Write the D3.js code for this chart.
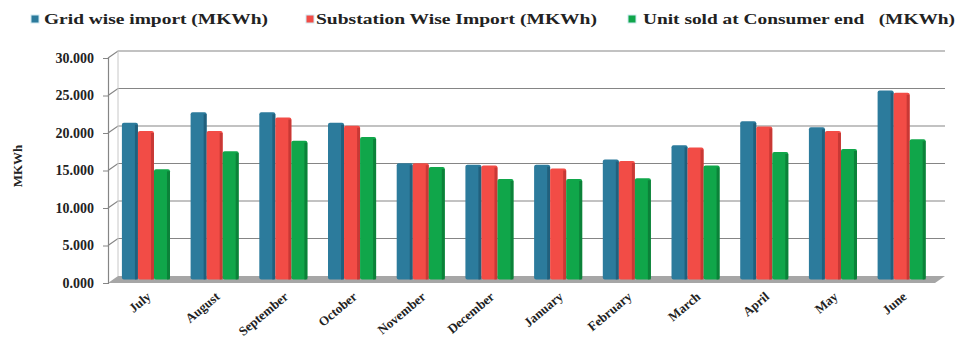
<!DOCTYPE html>
<html>
<head>
<meta charset="utf-8">
<script src="https://cdn.jsdelivr.net/npm/d3@7"></script>
<style>
  body { margin: 0; background: #fff; }
  svg { display: block; }
  text { font-family: "Liberation Serif", "Times New Roman", serif; font-weight: bold; fill: #222; }
</style>
</head>
<body>
<script>
var months = ["July", "August", "September", "October", "November", "December",
    "January", "February", "March", "April", "May", "June"];

var seriesNames = ["Grid wise import (MKWh)", "Substation Wise Import (MKWh)",
    "Unit sold at Consumer end   (MKWh)"];

var gridImport = [20.9, 22.3, 22.3, 20.9, 15.5, 15.3, 15.3, 16.0, 17.9, 21.1, 20.3, 25.2];
var substationImport = [19.8, 19.8, 21.6, 20.5, 15.5, 15.2, 14.8, 15.8, 17.6, 20.4, 19.8, 24.9];
var unitSold = [14.7, 17.1, 18.5, 19.0, 15.0, 13.4, 13.4, 13.5, 15.2, 17.0, 17.4, 18.7];

var yTicks = [0, 5, 10, 15, 20, 25, 30];

var colors = ["#2c7b9c", "#f24c46", "#10a64a"];
var sides = ["#1d5670", "#b8312d", "#0a7432"];

var width = 959, height = 349;
var depth = { x: 10, y: -7 };

var svg = d3.select("body").append("svg")
    .attr("width", width)
    .attr("height", height);

var x = d3.scaleBand()
    .domain(months)
    .range([111.6, 936])
    .paddingInner(0.3)
    .paddingOuter(0.15);

var sub = d3.scaleBand()
    .domain([0, 1, 2])
    .range([0, x.bandwidth()]);

var y = d3.scaleLinear()
    .domain([0, 30])
    .range([283, 58]);

var left = 108, right = 935;

// floor
svg.append("path")
    .attr("d", "M" + left + "," + y(0)
        + "L" + right + "," + y(0)
        + "L" + (right + depth.x) + "," + (y(0) + depth.y)
        + "L" + (left + depth.x) + "," + (y(0) + depth.y) + "Z")
    .attr("fill", "#a6a6a6");

// back wall gridlines
var grid = svg.append("g").attr("class", "grid");
grid.selectAll("path")
    .data(yTicks.filter(function(d) { return d > 0; }))
    .enter().append("path")
        .attr("d", function(d) {
            return "M" + left + "," + y(d)
                + "L" + (left + depth.x) + "," + (y(d) + depth.y)
                + "L" + (right + depth.x) + "," + (y(d) + depth.y); })
        .attr("fill", "none")
        .attr("stroke", "#858585")
        .attr("stroke-width", 1.2);

// left wall back edge
svg.append("line")
    .attr("x1", left + depth.x).attr("x2", left + depth.x)
    .attr("y1", y(30) + depth.y).attr("y2", y(0) + depth.y)
    .attr("stroke", "#c8c8c8");

// y axis
var yAxis = d3.axisLeft(y)
    .tickValues(yTicks)
    .tickFormat(d3.format(".3f"))
    .tickSize(5)
    .tickPadding(9);

var ga = svg.append("g")
    .attr("transform", "translate(" + left + ",0)")
    .call(yAxis);
ga.select(".domain").attr("stroke", "#858585").attr("stroke-width", 1.2);
ga.selectAll(".tick line").attr("stroke", "#858585");
ga.selectAll(".tick text")
    .attr("font-size", 14)
    .attr("fill", "#333")
    .attr("font-family", "Liberation Serif, serif")
    .attr("font-weight", "bold");

svg.append("text")
    .attr("transform", "translate(22,166) rotate(-90)")
    .attr("text-anchor", "middle")
    .attr("font-size", 13)
    .text("MKWh");

// bars
var table = months.map(function(m, i) {
    return { month: m, values: [gridImport[i], substationImport[i], unitSold[i]] };
});

var groups = svg.append("g")
    .attr("transform", "translate(" + depth.x / 2 + "," + depth.y / 2 + ")")
    .selectAll("g.month")
    .data(table)
    .enter().append("g")
        .attr("class", "month")
        .attr("transform", function(d) { return "translate(" + (x(d.month) - depth.x / 2) + ",0)"; });

var bars = groups.selectAll("g.bar")
    .data(function(d) { return d.values.map(function(v, k) { return { v: v, k: k }; }); })
    .enter().append("g")
        .attr("class", "bar");

bars.append("rect")
    .attr("x", function(d) { return sub(d.k); })
    .attr("y", function(d) { return y(d.v); })
    .attr("width", sub.bandwidth())
    .attr("height", function(d) { return y(0) - y(d.v); })
    .attr("rx", 2)
    .attr("fill", function(d) { return colors[d.k]; });

bars.append("rect")
    .attr("x", function(d) { return sub(d.k) + sub.bandwidth() - 3; })
    .attr("y", function(d) { return y(d.v) + 2; })
    .attr("width", 3)
    .attr("height", function(d) { return y(0) - y(d.v) - 2; })
    .attr("fill", function(d) { return sides[d.k]; })
    .attr("opacity", 0.7);

// x labels
svg.append("g").selectAll("text")
    .data(months)
    .enter().append("text")
        .attr("transform", function(d) {
            return "translate(" + (x(d) + x.bandwidth() / 2) + ",291) rotate(-40)"; })
        .attr("text-anchor", "end")
        .attr("dy", "0.7em")
        .attr("font-size", 13)
        .text(function(d) { return d; });

// legend
var legendItems = [
    { name: seriesNames[0], mx: 31, tx: 44, tw: 224 },
    { name: seriesNames[1], mx: 306, tx: 316, tw: 281 },
    { name: seriesNames[2], mx: 628, tx: 643, tw: 312 }];

var legend = svg.append("g").selectAll("g")
    .data(legendItems)
    .enter().append("g");

legend.append("rect")
    .attr("x", function(d) { return d.mx; })
    .attr("y", 15)
    .attr("width", 8)
    .attr("height", 8)
    .attr("fill", function(d, i) { return colors[i]; })
    .attr("stroke", "#cfe9f2")
    .attr("stroke-width", 1);

legend.append("text")
    .attr("x", function(d) { return d.tx; })
    .attr("y", 24)
    .attr("font-size", 14)
    .attr("textLength", function(d) { return d.tw; })
    .attr("lengthAdjust", "spacingAndGlyphs")
    .style("white-space", "pre")
    .text(function(d) { return d.name; });
</script>
</body>
</html>
